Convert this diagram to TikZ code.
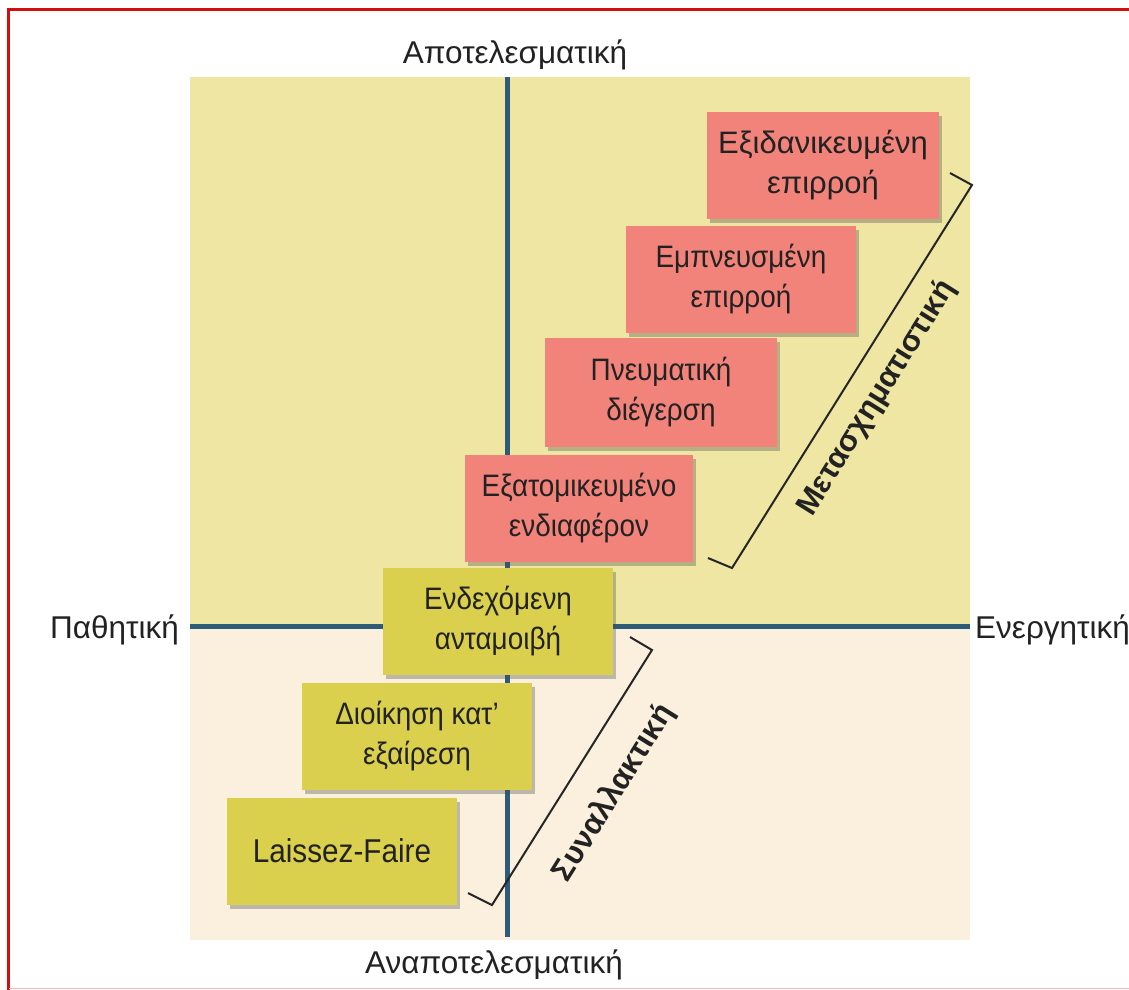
\documentclass[tikz,border=0pt]{standalone}
\usepackage{fontspec}
\setmainfont{Liberation Sans}
\newfontfamily\boxfont[FakeStretch=0.9]{Liberation Sans}
\usetikzlibrary{shadows}
\definecolor{bgyellow}{HTML}{EEE6A2}
\definecolor{bgpeach}{HTML}{FBF0DD}
\definecolor{axiscol}{HTML}{2E5C78}
\definecolor{redbox}{HTML}{F2837B}
\definecolor{yelbox}{HTML}{DAD04E}
\definecolor{txt}{HTML}{222222}
\definecolor{frame}{HTML}{D01010}
\tikzset{
  boxbase/.style={draw=none, minimum width=230pt, minimum height=107pt, inner sep=0pt, align=center,
    text=txt, font=\boxfont\fontsize{31}{40}\selectfont,
    drop shadow={shadow xshift=3pt, shadow yshift=-4pt, opacity=0.35, fill=black!70}},
  redb/.style={boxbase, fill=redbox},
  yelb/.style={boxbase, fill=yelbox},
  axislabel/.style={text=txt, inner sep=0pt, font=\fontsize{31.5}{36}\selectfont},
  axisline/.style={draw=axiscol, line width=5pt},
  bracketline/.style={draw=black!85, line width=2pt, line join=miter},
  brlabel/.style={text=txt, inner sep=0pt, font=\bfseries\fontsize{31}{36}\selectfont}
}
\begin{document}
\begin{tikzpicture}[x=1pt,y=-1pt]
\useasboundingbox (0,0) rectangle (1129,989);
\fill[white] (0,0) rectangle (1129,989);
% background panels
\fill[bgyellow] (190,77) rectangle (970,626);
\fill[bgpeach] (190,626) rectangle (970,940);
% frame
\draw[frame, line width=3pt] (1140,9.5) -- (8.5,9.5) -- (8.5,995);
\draw[frame!30, line width=1.5pt] (8.5,988.5) -- (1140,988.5);
% axes
\coordinate (vtop) at (507,77);
\coordinate (vbot) at (507,937);
\coordinate (hleft) at (190,626);
\coordinate (hright) at (970,626);
\draw[axisline] (vtop) -- (vbot);
\draw[axisline] (hleft) -- (hright);
% axis labels
\node[axislabel] (ltop) at (515,55) {Αποτελεσματική};
\node[axislabel] (lbot) at (494,965) {Αναποτελεσματική};
\node[axislabel, anchor=east] (lleft) at (179,630) {Παθητική};
\node[axislabel, anchor=west] (lright) at (975,630) {Ενεργητική};
% boxes
\node[redb, minimum width=232pt, font=\fontsize{31}{40}\selectfont] (b1) at (823,165) {Εξιδανικευμένη\\επιρροή};
\node[redb] (b2) at (741,279) {Εμπνευσμένη\\επιρροή};
\node[redb, minimum width=232pt, minimum height=109pt] (b3) at (661,392) {Πνευματική\\διέγερση};
\node[redb, minimum width=228pt] (b4) at (579,508) {Εξατομικευμένο\\ενδιαφέρον};
\node[yelb] (b5) at (498,621) {Ενδεχόμενη\\ανταμοιβή};
\node[yelb] (b6) at (417,736) {Διοίκηση κατ’\\εξαίρεση};
\node[yelb, font=\boxfont\fontsize{33}{40}\selectfont] (b7) at (342,851) {Laissez-Faire};
% brackets
\coordinate (t1) at (708,558);
\coordinate (t2) at (732,568);
\coordinate (t3) at (972,185);
\coordinate (t4) at (950,173);
\draw[bracketline] (t1) -- (t2) -- (t3) -- (t4);
\coordinate (s1) at (468,893);
\coordinate (s2) at (492,905);
\coordinate (s3) at (652,650);
\coordinate (s4) at (630,637);
\draw[bracketline] (s1) -- (s2) -- (s3) -- (s4);
\node[brlabel, rotate=58] (trans) at (877,398) {Μετασχηματιστική};
\node[brlabel, rotate=58] (synal) at (614,793) {Συναλλακτική};
\end{tikzpicture}
\end{document}
